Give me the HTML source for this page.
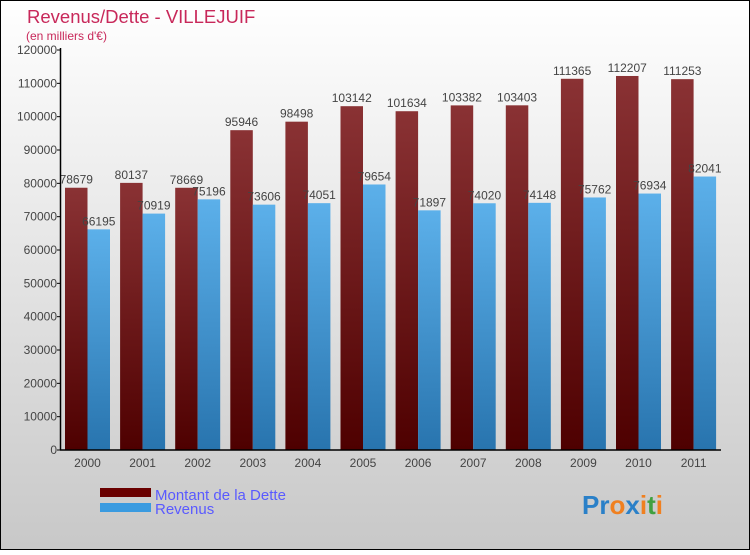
<!DOCTYPE html>
<html><head><meta charset="utf-8"><style>
body{margin:0;width:750px;height:550px;overflow:hidden;font-family:"Liberation Sans",sans-serif}
</style></head><body>
<svg id="c" width="750" height="550" xmlns="http://www.w3.org/2000/svg">
<defs>
<linearGradient id="bg" x1="0" y1="0" x2="0" y2="1"><stop offset="0" stop-color="#ffffff"/><stop offset="1" stop-color="#c8c8c8"/></linearGradient>
<linearGradient id="gd" x1="0" y1="0" x2="0" y2="1"><stop offset="0" stop-color="#8a3234"/><stop offset="1" stop-color="#4e0000"/></linearGradient>
<linearGradient id="gr" x1="0" y1="0" x2="0" y2="1"><stop offset="0" stop-color="#5cb0ea"/><stop offset="1" stop-color="#2874ae"/></linearGradient>
</defs>
<rect x="0.5" y="0.5" width="749" height="549" fill="url(#bg)" stroke="#000"/>
<text x="27" y="23" font-size="18.5" fill="#c8285a">Revenus/Dette - VILLEJUIF</text>
<text x="26" y="40" font-size="12" fill="#c8285a">(en milliers d'€)</text>
<g id="plot"></g>
<rect x="100" y="488" width="51" height="9" fill="#6a0000"/>
<rect x="100" y="503" width="51" height="9" fill="#3a9be0"/>
<text x="155" y="500" font-size="15" fill="#5a5aff">Montant de la Dette</text>
<text x="155" y="514" font-size="15" fill="#5a5aff">Revenus</text>
<text x="582" y="514" font-size="26" font-weight="bold"><tspan fill="#2a80c8">Pr</tspan><tspan fill="#f08020">o</tspan><tspan fill="#2a80c8">x</tspan><tspan fill="#f08020">i</tspan><tspan fill="#40a040">t</tspan><tspan fill="#f08020">i</tspan></text>
</svg>
<script>
const categories=["2000","2001","2002","2003","2004","2005","2006","2007","2008","2009","2010","2011"];
const dette=[78679,80137,78669,95946,98498,103142,101634,103382,103403,111365,112207,111253];
const revenus=[66195,70919,75196,73606,74051,79654,71897,74020,74148,75762,76934,82041];
const ticks=[0,10000,20000,30000,40000,50000,60000,70000,80000,90000,100000,110000,120000];
const NS="http://www.w3.org/2000/svg";
const g=document.getElementById('plot');
const y=v=>450-v*400/120000;
const x=i=>65+i*55.1;
const bw=22.5;
function mk(t,a,txt){const e=document.createElementNS(NS,t);for(const k in a)e.setAttribute(k,a[k]);if(txt!==undefined)e.textContent=txt;g.appendChild(e);return e;}
categories.forEach((c,i)=>{
  let r=mk('rect',{x:x(i),y:y(dette[i]),width:bw,height:450-y(dette[i]),fill:'url(#gd)'});
  
  
  r=mk('rect',{x:x(i)+bw,y:y(revenus[i]),width:bw,height:450-y(revenus[i]),fill:'url(#gr)'});
  
  
  let t=mk('text',{x:x(i)+bw/2,y:y(dette[i])-4,'font-size':12,fill:'#444','text-anchor':'middle'},String(dette[i]));
  
  
  t=mk('text',{x:x(i)+bw*1.5,y:y(revenus[i])-4,'font-size':12,fill:'#444','text-anchor':'middle'},String(revenus[i]));
  
  
  t=mk('text',{x:x(i)+bw,y:467,'font-size':12,fill:'#444','text-anchor':'middle'},c);
  
  
});
ticks.forEach(v=>{
  let l=mk('line',{x1:57,x2:61,y1:y(v),y2:y(v),stroke:'#000'});
  
  
  let t=mk('text',{x:57,y:y(v)+4,'font-size':12,fill:'#444','text-anchor':'end'},String(v));
  
  
});
let a=mk('line',{x1:60.5,x2:60.5,y1:48,y2:450,stroke:'#000','stroke-width':1.5});


a=mk('line',{x1:60,x2:721,y1:450,y2:450,stroke:'#000','stroke-width':1.5});


</script>
</body></html>
